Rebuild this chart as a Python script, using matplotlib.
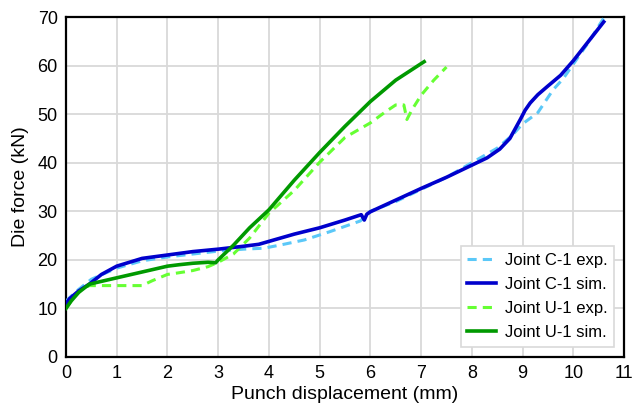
import matplotlib
matplotlib.use("Agg")
import matplotlib.pyplot as plt

plt.rcParams['font.family'] = ['Liberation Sans', 'DejaVu Sans']

# Joint C-1 experiment
c1_exp_x = [0.0, 0.2, 0.5, 1.0, 1.5, 2.0, 2.5, 3.0, 3.5, 3.9, 4.2, 4.7, 5.2, 5.8, 6.0, 6.5, 7.0, 7.5, 8.0, 8.5, 8.8, 9.0, 9.3, 9.6, 9.8, 10.0, 10.3, 10.6]
c1_exp_y = [11.5, 13.5, 16.0, 18.3, 19.8, 20.6, 21.2, 21.8, 22.2, 22.4, 23.0, 24.1, 25.8, 28.0, 30.0, 32.0, 34.5, 37.0, 40.0, 43.0, 45.7, 48.0, 50.3, 55.0, 57.3, 60.3, 64.8, 69.8]
# Joint C-1 simulation
c1_sim_x = [0.0, 0.07, 0.25, 0.46, 0.7, 1.0, 1.5, 2.0, 2.5, 3.0, 3.5, 3.8, 4.0, 4.5, 5.0, 5.5, 5.82, 5.88, 5.93, 6.0, 6.5, 7.0, 7.5, 8.0, 8.3, 8.55, 8.75, 8.95, 9.05, 9.15, 9.3, 9.5, 9.75, 10.0, 10.3, 10.6]
c1_sim_y = [11.0, 12.0, 13.6, 15.0, 17.0, 18.7, 20.3, 21.0, 21.7, 22.2, 22.8, 23.2, 23.8, 25.3, 26.6, 28.2, 29.3, 28.2, 29.4, 29.9, 32.3, 34.7, 37.0, 39.5, 41.0, 42.8, 45.0, 48.8, 50.8, 52.3, 54.0, 55.8, 58.0, 61.0, 65.0, 69.0]
# Joint U-1 experiment
u1_exp_x = [0.0, 0.15, 0.3, 0.46, 1.0, 1.5, 1.7, 2.0, 2.2, 2.5, 2.8, 3.0, 3.3, 3.62, 4.0, 4.5, 5.0, 5.5, 6.0, 6.3, 6.5, 6.66, 6.72, 6.82, 7.0, 7.25, 7.5]
u1_exp_y = [10.0, 12.2, 13.8, 14.7, 14.7, 14.7, 15.7, 17.0, 17.3, 17.8, 18.6, 19.5, 21.2, 24.5, 29.6, 34.3, 40.1, 45.2, 48.2, 50.5, 51.9, 51.9, 48.9, 50.9, 53.9, 57.0, 59.7]
# Joint U-1 simulation
u1_sim_x = [0.0, 0.1, 0.25, 0.46, 1.0, 1.5, 2.0, 2.23, 2.5, 2.8, 2.95, 3.0, 3.3, 3.62, 4.0, 4.5, 5.0, 5.5, 6.0, 6.5, 7.0, 7.06]
u1_sim_y = [10.0, 11.5, 13.3, 15.0, 16.3, 17.5, 18.7, 19.0, 19.3, 19.5, 19.4, 20.0, 23.0, 26.6, 30.3, 36.4, 42.1, 47.5, 52.6, 57.0, 60.4, 60.8]

x_ticks = list(range(0, 12))
y_ticks = list(range(0, 71, 10))

fig = plt.figure(figsize=(6.32, 4.17), dpi=100)
ax = fig.add_axes([0.1044, 0.1439, 0.8830, 0.8153])

ax.plot(c1_exp_x, c1_exp_y, color='#5BC8F8', lw=2.2, ls=(0, (3, 2)), label='Joint C-1 exp.', zorder=3)
ax.plot(c1_sim_x, c1_sim_y, color='#0000CC', lw=2.6, label='Joint C-1 sim.', zorder=4)
ax.plot(u1_exp_x, u1_exp_y, color='#66FF33', lw=2.2, ls=(0, (3, 2)), label='Joint U-1 exp.', zorder=3)
ax.plot(u1_sim_x, u1_sim_y, color='#009900', lw=2.6, label='Joint U-1 sim.', zorder=4)

ax.set_xlim(0, 11)
ax.set_ylim(0, 70)
ax.set_xticks(x_ticks)
ax.set_yticks(y_ticks)
ax.tick_params(labelsize=13, length=0, pad=6)
ax.grid(True, color='#D9D9D9', lw=1.3)
ax.set_axisbelow(True)
for s in ax.spines.values():
    s.set_color('black')
    s.set_linewidth(1.6)

ax.set_xlabel('Punch displacement (mm)', fontsize=14, labelpad=3)
ax.set_ylabel('Die force (kN)', fontsize=14, labelpad=6)

leg = ax.legend(loc='lower right', fontsize=12, frameon=True, fancybox=False,
                edgecolor='#D9D9D9', framealpha=1, borderaxespad=0.6,
                handlelength=1.7, handletextpad=0.55, labelspacing=0.55, borderpad=0.4)
leg.get_frame().set_linewidth(1.2)

fig.savefig('out.png', dpi=100)
